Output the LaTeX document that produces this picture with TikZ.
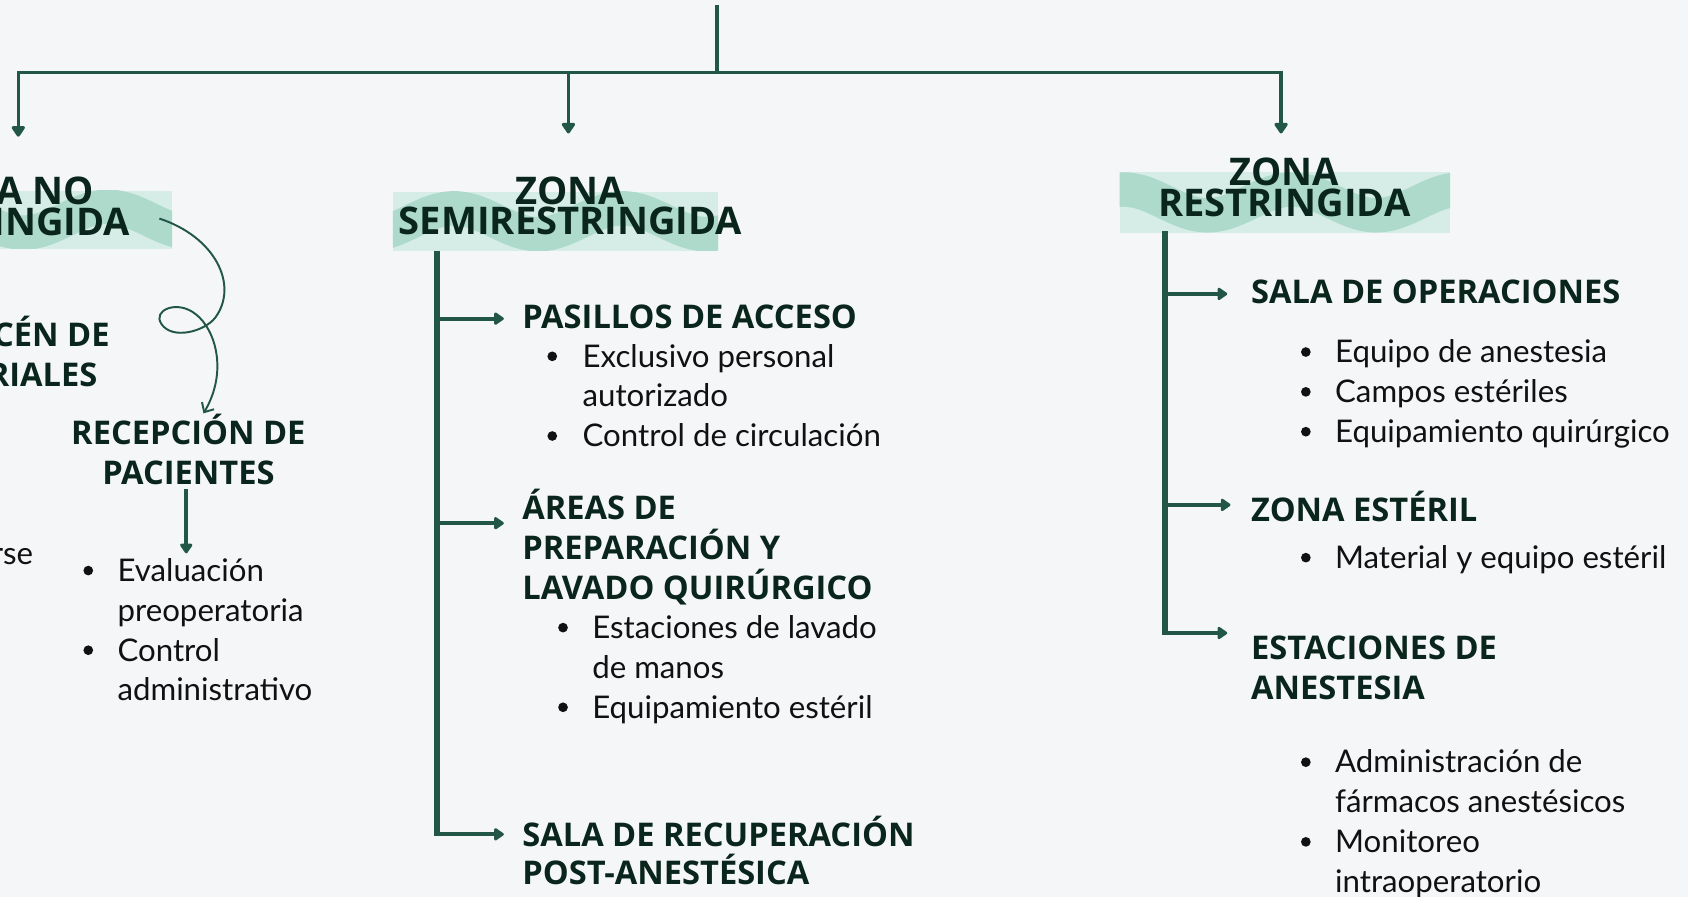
\documentclass[tikz,border=0pt]{standalone}
\usepackage{fontspec}
\setmainfont{Lato}
\newfontfamily\headfont{Open Sans}
\usetikzlibrary{arrows.meta}
\definecolor{bg}{HTML}{F4F6F8}
\definecolor{ln}{HTML}{225646}
\definecolor{hd}{HTML}{0A261C}
\definecolor{tx}{HTML}{111111}
\definecolor{mintd}{HTML}{AEDACC}
\definecolor{mintl}{HTML}{D5EDE6}
\newcommand\mintband[5]{%
  \begin{scope}
    \clip (#1,#2) rectangle (#3,#4);
    \fill[mintl] (#1,#2) rectangle (#3,#4);
    \draw[mintd, line width=32pt] plot[domain=#1-20:#3+20, samples=90, smooth] (\x, {(#2+#4)/2 + 12*sin(2.3*\x+#5)});
  \end{scope}}
\tikzset{
  head/.style={font=\headfont\bfseries\fontsize{30.3}{37}\selectfont, text=hd, inner sep=0pt, anchor=base west},
  zone/.style={font=\headfont\bfseries\fontsize{35.4}{29}\selectfont, text=hd, inner sep=0pt, anchor=base},
  body/.style={font=\fontsize{29}{37}\selectfont, text=tx, inner sep=0pt, anchor=base west},
  dot/.style={circle, fill=tx, minimum size=9pt, inner sep=0pt},
  conn/.style={draw=ln, line width=3pt},
  trunk/.style={draw=ln, line width=5.5pt},
  branch/.style={draw=ln, line width=3.5pt, -{Triangle[width=13pt,length=10pt,round]}},
  drop/.style={draw=ln, line width=3pt, -{Triangle[width=14pt,length=11pt,round]}},
  curly/.style={draw=ln, line width=1.8pt, -{Straight Barb[length=7pt,width=13pt]}},
}
\begin{document}
\begin{tikzpicture}[x=1pt,y=-1pt]
\useasboundingbox (0,0) rectangle (1568,833);
\fill[bg] (0,0) rectangle (1568,833);

% highlight bands
\mintband{-10}{177}{160}{231}{40}
\mintband{365}{178}{667}{233}{20}
\mintband{1040}{160}{1347}{216}{30}

% zone headings
\node[zone, anchor=base east] (zl2) at (121,219) {RESTRINGIDA};
\node[zone] (zl1) at (zl2.base |- 0,190) {ZONA NO};
\node[zone] (zm1) at (530,190) {ZONA};
\node[zone] (zm2) at (530,218) {SEMIRESTRINGIDA};
\node[zone] (zr1) at (1193,172) {ZONA};
\node[zone] (zr2) at (1193,201) {RESTRINGIDA};

% top connectors
\coordinate (top) at (666,5);
\coordinate (hub) at (666,67);
\coordinate (tipL) at (17,127);
\coordinate (tipM) at (528,124);
\coordinate (tipR) at (1190,124);
\draw[conn] (top) -- (hub);
\draw[drop] (hub) -| (tipL);
\draw[drop] (hub) -| (tipR);
\draw[drop] (tipM |- hub) -- (tipM);

% ---------- left column ----------
\node[head, anchor=base east] (alm1) at (102,322) {ALMACÉN DE};
\node[head] (alm2) at (alm1.base west |- 0,359) {MATERIALES};
\node[head, anchor=base] (rec1) at (175,413) {RECEPCIÓN DE};
\node[head, anchor=base] (rec2) at (175,450) {PACIENTES};
\coordinate (crS) at (148,203);
\coordinate (crE) at (189,384);
\draw[curly] (crS) .. controls (200,220) and (222,265) .. (200,295)
  .. controls (190,308) and (160,316) .. (150,301)
  .. controls (141,288) and (165,278) .. (182,292)
  .. controls (200,306) and (212,345) .. (crE);
\coordinate (recTip) at (173,514);
\draw[branch, line width=4pt] (rec2.south -| recTip) ++(0,4) -- (recTip);
\node[body, anchor=base east] (rse) at (31,524) {rse};
\node[dot] (ld1) at (82,530) {};
\node[body] (l1a) at (109,540) {Evaluación};
\node[body] (l1b) at (109,577) {preoperatoria};
\node[dot] (ld2) at (82,604) {};
\node[body] (l2a) at (109,614) {Control};
\node[body] (l2b) at (109,651) {administrativo};

% ---------- middle column ----------
\node[head] (pas) at (485,305) {PASILLOS DE ACCESO};
\node[dot] (md1) at (513,331) {};
\node[body] (m1a) at (541,341) {Exclusivo personal};
\node[body] (m1b) at (541,378) {autorizado};
\node[dot] (md2) at (513,405) {};
\node[body] (m2a) at (541,415) {Control de circulación};
\node[head] (are1) at (485,483) {ÁREAS DE};
\node[head] (are2) at (485,520) {PREPARACIÓN Y};
\node[head] (are3) at (485,557) {LAVADO QUIRÚRGICO};
\node[dot] (md3) at (523,583) {};
\node[body] (m3a) at (550,593) {Estaciones de lavado};
\node[body] (m3b) at (550,630) {de manos};
\node[dot] (md4) at (523,657) {};
\node[body] (m4a) at (550,667) {Equipamiento estéril};
\node[head] (sal1) at (485,786) {SALA DE RECUPERACIÓN};
\node[head] (sal2) at (485,822) {POST-ANESTÉSICA};

\coordinate (mT) at (406,233);
\coordinate (aPas) at ([xshift=-17pt,yshift=9pt]pas.base west);
\coordinate (aAre) at ([xshift=-17pt,yshift=-3pt]are1.base west);
\coordinate (aSal) at ([xshift=-17pt,yshift=11pt]sal1.base west);
\draw[trunk] (mT) -- (mT |- aSal);
\draw[branch] (mT |- aPas) -- (aPas);
\draw[branch] (mT |- aAre) -- (aAre);
\draw[branch] ([xshift=-2.75pt]mT |- aSal) -- (aSal);

% ---------- right column ----------
\node[head] (ops) at (1162,282) {SALA DE OPERACIONES};
\node[dot] (rd1) at (1213,327) {};
\node[body] (r1) at (1240,337) {Equipo de anestesia};
\node[dot] (rd2) at (1213,364) {};
\node[body] (r2) at (1240,374) {Campos estériles};
\node[dot] (rd3) at (1213,401) {};
\node[body] (r3) at (1240,411) {Equipamiento quirúrgico};
\node[head] (zes) at (1162,484) {ZONA ESTÉRIL};
\node[dot] (rd4) at (1213,518) {};
\node[body] (r4) at (1240,528) {Material y equipo estéril};
\node[head] (est1) at (1162,613) {ESTACIONES DE};
\node[head] (est2) at (1162,650) {ANESTESIA};
\node[dot] (rd5) at (1213,708) {};
\node[body] (r5a) at (1240,718) {Administración de};
\node[body] (r5b) at (1240,755) {fármacos anestésicos};
\node[dot] (rd6) at (1213,782) {};
\node[body] (r6a) at (1240,792) {Monitoreo};
\node[body] (r6b) at (1240,829) {intraoperatorio};

\coordinate (rT) at (1082,215);
\coordinate (aOps) at ([xshift=-22pt,yshift=9pt]ops.base west);
\coordinate (aZes) at ([xshift=-19pt,yshift=15pt]zes.base west);
\coordinate (aEst) at ([xshift=-22pt,yshift=25pt]est1.base west);
\draw[trunk] (rT) -- (rT |- aEst);
\draw[branch] (rT |- aOps) -- (aOps);
\draw[branch] (rT |- aZes) -- (aZes);
\draw[branch] ([xshift=-2.75pt]rT |- aEst) -- (aEst);
\end{tikzpicture}
\end{document}
